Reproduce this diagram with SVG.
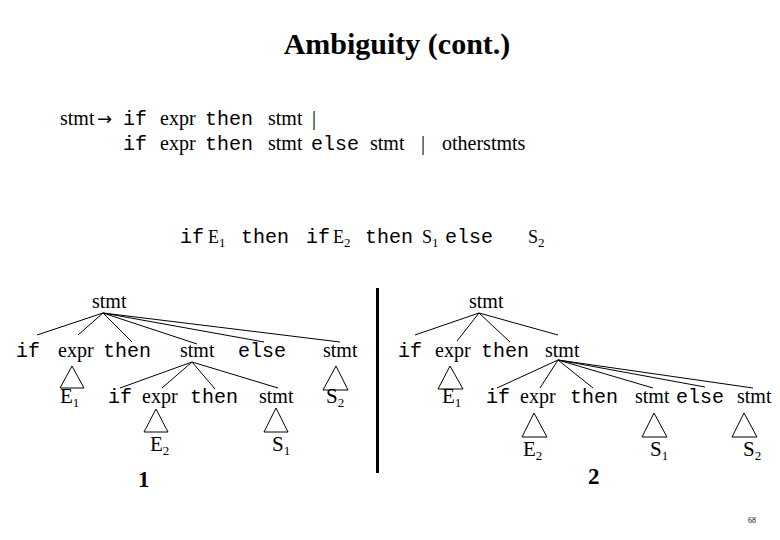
<svg xmlns="http://www.w3.org/2000/svg" width="780" height="540" viewBox="0 0 780 540">
<style>
.s{font-family:"Liberation Serif","Times New Roman",serif;font-size:20px;fill:#000}
.m{font-family:"Liberation Mono","Courier New",monospace;font-size:20px;fill:#000}
.b{font-family:"Liberation Serif","Times New Roman",serif;font-weight:bold;fill:#000}
.v{font-family:"Liberation Serif","Times New Roman",serif;font-size:21px;fill:#000}
.vs{font-family:"Liberation Serif","Times New Roman",serif;font-size:18px;fill:#000}
.ar{font-family:"DejaVu Sans",sans-serif;font-size:18px;fill:#000}
.sub{font-size:13px}
.ln line{stroke:#000;stroke-width:1}
.ln polygon{fill:none;stroke:#000;stroke-width:1}
</style>
<rect width="780" height="540" fill="#fff"/>
<g id="title"><text class="b" x="397" y="54" style="font-size:30px" text-anchor="middle">Ambiguity (cont.)</text></g>
<g id="grammar">
<text class="s" x="60" y="125">stmt</text>
<text class="ar" x="97" y="125">→</text>
<text class="m" x="123" y="125">if</text>
<text class="s" x="160" y="125">expr</text>
<text class="m" x="205" y="125">then</text>
<text class="s" x="268" y="125">stmt</text>
<text class="s" x="312" y="125">|</text>
<text class="m" x="123" y="150">if</text>
<text class="s" x="160" y="150">expr</text>
<text class="m" x="205" y="150">then</text>
<text class="s" x="268" y="150">stmt</text>
<text class="m" x="311" y="150">else</text>
<text class="s" x="370" y="150">stmt</text>
<text class="s" x="421" y="150">|</text>
<text class="s" x="442" y="150">otherstmts</text>
</g>
<g id="sentence">
<text class="m" x="180" y="243">if</text>
<text class="vs" x="208" y="243">E<tspan class="sub" dy="4">1</tspan></text>
<text class="m" x="241" y="243">then</text>
<text class="m" x="306" y="243">if</text>
<text class="vs" x="333" y="243">E<tspan class="sub" dy="4">2</tspan></text>
<text class="m" x="365" y="243">then</text>
<text class="vs" x="422" y="243">S<tspan class="sub" dy="4">1</tspan></text>
<text class="m" x="445" y="243">else</text>
<text class="vs" x="528" y="243">S<tspan class="sub" dy="4">2</tspan></text>
</g>
<g id="divider"><line x1="377.5" y1="288" x2="377.5" y2="473" stroke="#000" stroke-width="3"/></g>
<g id="connectors" class="ln">
<line x1="103" y1="313" x2="37" y2="335"/>
<line x1="103" y1="313" x2="78" y2="335"/>
<line x1="103" y1="313" x2="132" y2="342"/>
<line x1="103" y1="313" x2="197" y2="344"/>
<line x1="103" y1="313" x2="264" y2="342"/>
<line x1="103" y1="313" x2="340" y2="342"/>
<line x1="192" y1="362" x2="120" y2="388"/>
<line x1="192" y1="362" x2="162" y2="388"/>
<line x1="192" y1="362" x2="215" y2="389"/>
<line x1="192" y1="362" x2="278" y2="388"/>
<polygon points="72,366 60,388 84,388"/>
<polygon points="336,366 323,390 348,390"/>
<polygon points="156,409 144,432 168,432"/>
<polygon points="276,408 264,432 288,432"/>
<line x1="479" y1="313" x2="415" y2="335"/>
<line x1="479" y1="313" x2="457" y2="341"/>
<line x1="479" y1="313" x2="510" y2="342"/>
<line x1="479" y1="313" x2="558" y2="335"/>
<line x1="558" y1="360" x2="497" y2="388"/>
<line x1="558" y1="360" x2="540" y2="388"/>
<line x1="558" y1="360" x2="593" y2="388"/>
<line x1="558" y1="360" x2="653" y2="388"/>
<line x1="558" y1="360" x2="705" y2="387"/>
<line x1="558" y1="360" x2="753" y2="388"/>
<polygon points="450,366 438,389 463,389"/>
<polygon points="534,413 522,437 547,437"/>
<polygon points="654,413 642,437 667,437"/>
<polygon points="744,413 732,437 757,437"/>
</g>
<g id="t1-stmt"><text class="s" x="92" y="308">stmt</text></g>
<g id="t1-if"><text class="m" x="16" y="357">if</text></g>
<g id="t1-expr"><text class="s" x="58" y="357">expr</text></g>
<g id="t1-then"><text class="m" x="103" y="357">then</text></g>
<g id="t1-stmt2"><text class="s" x="180" y="357">stmt</text></g>
<g id="t1-else"><text class="m" x="238" y="357">else</text></g>
<g id="t1-stmt3"><text class="s" x="323" y="357">stmt</text></g>
<g id="t1-E1"><text class="v" x="60" y="403">E<tspan class="sub" dy="4">1</tspan></text></g>
<g id="t1-if2"><text class="m" x="108" y="403">if</text></g>
<g id="t1-expr2"><text class="s" x="142" y="403">expr</text></g>
<g id="t1-then2"><text class="m" x="190" y="403">then</text></g>
<g id="t1-stmt4"><text class="s" x="259" y="403">stmt</text></g>
<g id="t1-S2"><text class="v" x="326" y="403">S<tspan class="sub" dy="4">2</tspan></text></g>
<g id="t1-E2"><text class="v" x="150" y="451">E<tspan class="sub" dy="4">2</tspan></text></g>
<g id="t1-S1"><text class="v" x="272" y="451">S<tspan class="sub" dy="4">1</tspan></text></g>
<g id="label1"><text class="b" x="138" y="487" style="font-size:23px">1</text></g>
<g id="t2-stmt"><text class="s" x="469" y="308">stmt</text></g>
<g id="t2-if"><text class="m" x="398" y="357">if</text></g>
<g id="t2-expr"><text class="s" x="435" y="357">expr</text></g>
<g id="t2-then"><text class="m" x="481" y="357">then</text></g>
<g id="t2-stmt2"><text class="s" x="545" y="357">stmt</text></g>
<g id="t2-E1"><text class="v" x="442" y="403">E<tspan class="sub" dy="4">1</tspan></text></g>
<g id="t2-if2"><text class="m" x="486" y="403">if</text></g>
<g id="t2-expr2"><text class="s" x="520" y="403">expr</text></g>
<g id="t2-then2"><text class="m" x="570" y="403">then</text></g>
<g id="t2-stmt3"><text class="s" x="635" y="403">stmt</text></g>
<g id="t2-else"><text class="m" x="676" y="403">else</text></g>
<g id="t2-stmt4"><text class="s" x="737" y="403">stmt</text></g>
<g id="t2-E2"><text class="v" x="523" y="456">E<tspan class="sub" dy="4">2</tspan></text></g>
<g id="t2-S1"><text class="v" x="650" y="456">S<tspan class="sub" dy="4">1</tspan></text></g>
<g id="t2-S2"><text class="v" x="743" y="456">S<tspan class="sub" dy="4">2</tspan></text></g>
<g id="label2"><text class="b" x="588" y="484" style="font-size:23px">2</text></g>
<g id="page"><text class="s" x="748" y="523" style="font-size:8px">68</text></g>
</svg>
